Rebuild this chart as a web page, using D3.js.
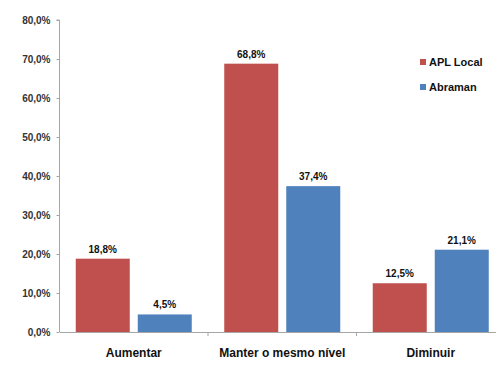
<!DOCTYPE html>
<html><head><meta charset="utf-8">
<script src="https://cdn.jsdelivr.net/npm/d3@7"></script>
<style>body{margin:0;background:#fff;}svg{display:block;font-family:"Liberation Sans",Arial,sans-serif;}</style>
</head><body>
<svg id="c" width="496" height="365"></svg>
<script>
const categories = ["Aumentar", "Manter o mesmo nível", "Diminuir"];
const seriesNames = ["APL Local", "Abraman"];
const aplLocal = [18.8, 68.8, 12.5];
const abraman = [4.5, 37.4, 21.1];
const yTicks = [0, 10, 20, 30, 40, 50, 60, 70, 80];
const colors = ["#C0504D", "#4F81BD"];

const svg = d3.select("#c");
const x0 = 59.5, yBottom = 332, yTop = 20;
const catW = 148.5;
const x = d3.scaleBand().domain(categories).range([x0, x0 + catW * 3]).paddingInner(0).paddingOuter(0);
const y = d3.scaleLinear().domain([0, 80]).range([yBottom, yTop]);
const fmt = v => v.toFixed(1).replace(".", ",") + "%";

// y axis
const yAxis = d3.axisLeft(y).tickValues(yTicks).tickSize(3).tickFormat(fmt);
const gy = svg.append("g").attr("transform", `translate(${x0},0)`).call(yAxis);
gy.select(".domain").attr("stroke", "#A6A6A6").attr("d", `M-3,${yTop}H0V${yBottom}`);
gy.selectAll(".tick line").attr("stroke", "#A6A6A6");
gy.selectAll(".tick text").attr("x", -9).attr("font-size", 10).attr("font-weight", "bold").attr("fill", "#333").attr("font-family", "'Liberation Sans',Arial,sans-serif");

// x axis
const xAxis = d3.axisBottom(x).tickSize(0).tickFormat("");
const gx = svg.append("g").attr("transform", `translate(0,${yBottom})`).call(xAxis);
gx.select(".domain").attr("stroke", "#A6A6A6");
// category boundary ticks
const bounds = categories.map(c => x(c) + x.bandwidth());
svg.append("g").selectAll("line").data(bounds).join("line")
  .attr("x1", d => d).attr("x2", d => d).attr("y1", yBottom).attr("y2", yBottom + 4)
  .attr("stroke", "#A6A6A6");
svg.append("g").selectAll("text").data(categories).join("text")
  .attr("x", d => x(d) + x.bandwidth() / 2).attr("y", 357)
  .attr("text-anchor", "middle").attr("font-size", 12).attr("font-weight", "bold").attr("fill", "#111")
  .text(d => d);

// bars
const barW = 54, gap = 8;
const series = [aplLocal, abraman];
series.forEach((vals, si) => {
  const g = svg.append("g");
  const off = (catW - (barW * 2 + gap)) / 2;
  const data = categories.map((c, i) => ({c, v: vals[i]}));
  g.selectAll("rect").data(data).join("rect")
    .attr("x", d => x(d.c) + off + si * (barW + gap))
    .attr("width", barW)
    .attr("y", d => y(d.v)).attr("height", d => yBottom - y(d.v))
    .attr("fill", colors[si]);
  g.selectAll("text").data(data).join("text")
    .attr("x", d => x(d.c) + off + si * (barW + gap) + barW / 2)
    .attr("y", d => y(d.v) - 6)
    .attr("text-anchor", "middle").attr("font-size", 10).attr("font-weight", "bold").attr("fill", "#111")
    .text(d => fmt(d.v));
});

// legend
const lg = svg.append("g").attr("transform", "translate(420,0)");
seriesNames.forEach((n, i) => {
  const yy = 62 + i * 25;
  lg.append("rect").attr("x", 0).attr("y", yy - 3).attr("width", 6).attr("height", 6).attr("fill", colors[i]);
  lg.append("text").attr("x", 9).attr("y", yy + 4).attr("font-size", 11).attr("font-weight", "bold").attr("fill", "#111").text(n);
});
</script>
</body></html>
